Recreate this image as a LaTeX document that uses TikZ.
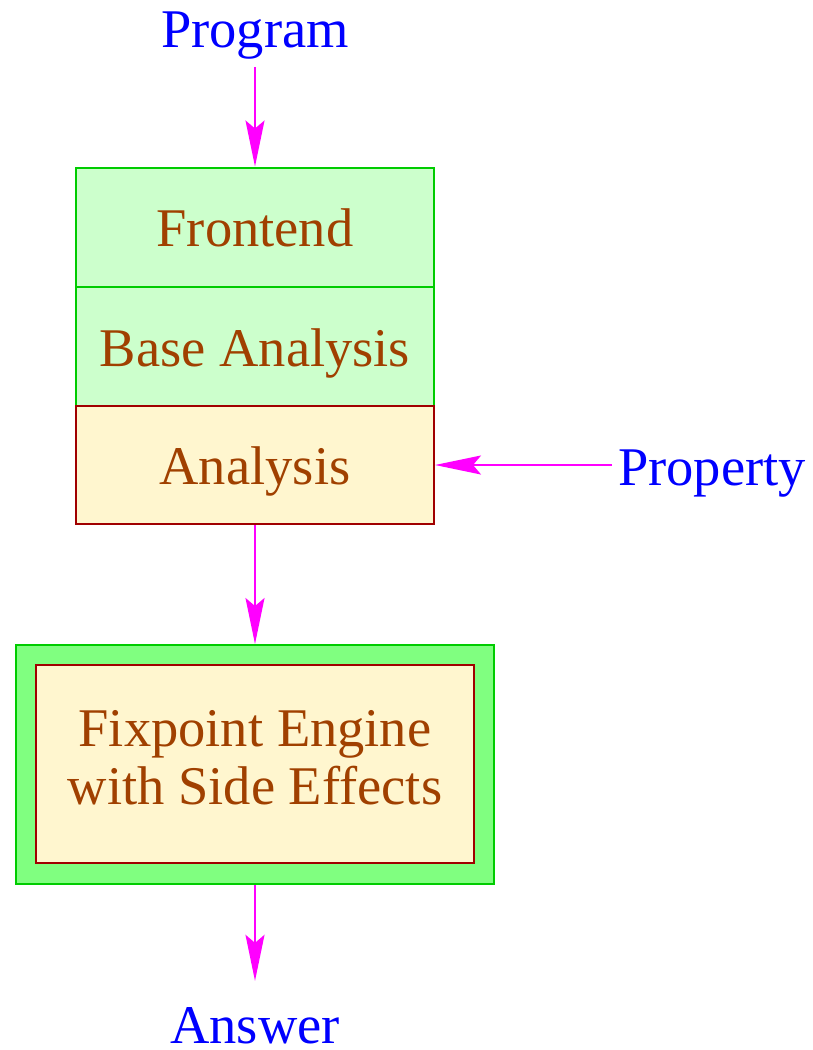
\documentclass[tikz,border=0pt]{standalone}
\usepackage{fontspec}
\setmainfont{Liberation Serif}
\usetikzlibrary{arrows.meta,calc}
\definecolor{boxgreen}{HTML}{00CC00}
\definecolor{lightgreen}{HTML}{CCFFCC}
\definecolor{midgreen}{HTML}{80FF80}
\definecolor{lightyellow}{HTML}{FFF6CF}
\definecolor{darkred}{HTML}{A00000}
\definecolor{textbrown}{HTML}{A04000}
\definecolor{arrowmag}{HTML}{FF00FF}
\begin{document}
\begin{tikzpicture}[x=1pt,y=-1pt,
  bigfont/.style={font=\fontsize{54.5}{58}\selectfont},
  lbl/.style={bigfont,text=blue,inner sep=0pt},
  greenbox/.style={draw=boxgreen,fill=lightgreen,line width=2pt,minimum width=358pt,minimum height=119pt,inner sep=0pt,bigfont,text=textbrown,text height=39pt,text depth=0pt},
  yellowbox/.style={draw=darkred,fill=lightyellow,line width=2pt,minimum width=358pt,minimum height=118pt,inner sep=0pt,bigfont,text=textbrown,text height=39pt,text depth=0pt},
  flow/.style={draw=arrowmag,line width=2pt,-{Stealth[length=46pt,width=19pt,inset=8pt]}}
]
\useasboundingbox (0,0) rectangle (812,1050);
\node[lbl,anchor=base] (prog) at (255,47) {Program};
\node[greenbox] (front) at (255,227) {Frontend};
\node[greenbox] (base) at (255,346.5) {Base Analysis};
\node[yellowbox] (anal) at (255,465) {Analysis};
\node[lbl,anchor=base west] (prop) at (618,485) {Property};
\node[draw=boxgreen,fill=midgreen,line width=2pt,minimum width=478pt,minimum height=239pt,inner sep=0pt] (outer) at (255,764.5) {};
\node[draw=darkred,fill=lightyellow,line width=2pt,minimum width=438pt,minimum height=198pt,inner sep=0pt] (fix) at (255,764) {};
\node[bigfont,text=textbrown,align=center,inner sep=0pt] (fixtext) at (255,758) {Fixpoint Engine\\with Side Effects};
\node[lbl,anchor=base] (ans) at (255,1043) {Answer};
\draw[flow,shorten <=8pt] (prog.south) -- (front.north);
\draw[flow] (prop.west |- anal.east) ++(-6pt,0) -- (anal.east);
\draw[flow] (anal.south) -- (outer.north);
\draw[flow,shorten >=26pt] (outer.south) -- (ans.north);
\end{tikzpicture}
\end{document}
